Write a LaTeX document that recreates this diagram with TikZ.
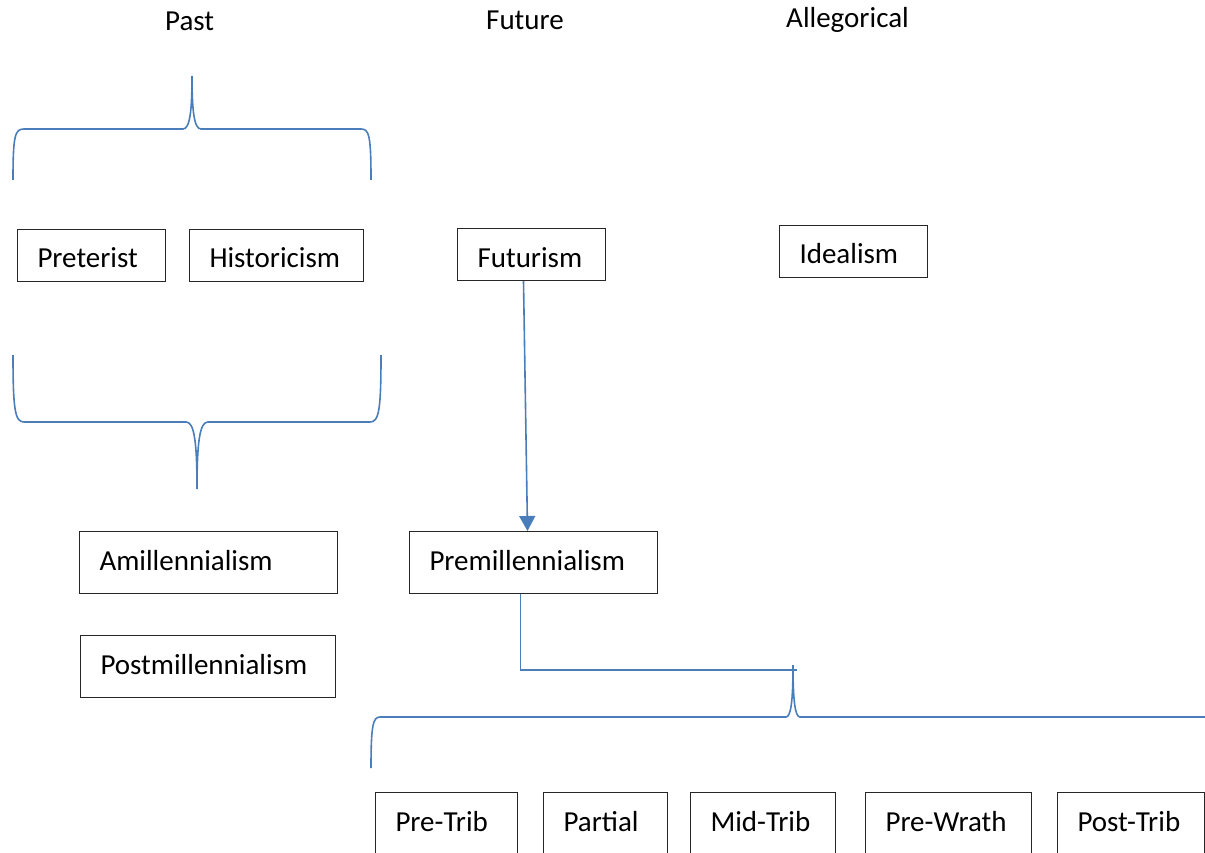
\documentclass[tikz,border=0pt]{standalone}
\usepackage{fontspec}
\setmainfont{Carlito}
\usetikzlibrary{arrows.meta}
\definecolor{braceblue}{RGB}{74,126,187}
\tikzset{
  box/.style n args={2}{draw=black!85, line width=1pt, rectangle, anchor=north west,
    inner xsep=20pt, inner ysep=0pt, text width=#1, align=left,
    text height=38.5pt, text depth=#2},
  head/.style={anchor=base west, inner sep=0pt},
  brace/.style={draw=braceblue, line width=1.6pt},
  link/.style={draw=braceblue, line width=1.6pt}
}

\begin{document}
\begin{tikzpicture}[x=1pt,y=-1pt,font=\fontsize{29}{34}\selectfont]
\clip (0,0) rectangle (1205,853);
% headings
\node[head] (past) at (165,31) {Past};
\node[head] (future) at (486,30) {Future};
\node[head] (alleg) at (786,28) {Allegorical};
% views
\node[box={108pt}{13.5pt}] (pret) at (17,229) {Preterist};
\node[box={134pt}{13.5pt}] (hist) at (189,229) {Historicism};
\node[box={108pt}{13.5pt}] (futur) at (457,228) {Futurism};
\node[box={108pt}{13.5pt}] (ideal) at (779,225) {Idealism};
% millennial views
\node[box={218pt}{23.5pt}] (amill) at (79,531) {Amillennialism};
\node[box={208pt}{23.5pt}] (premill) at (409,531) {Premillennialism};
\node[box={215pt}{23.5pt}] (postmill) at (80,635) {Postmillennialism};
% rapture views
\node[box={102pt}{70pt}] (pretrib) at (375,792) {Pre-Trib};
\node[box={84pt}{70pt}] (partial) at (543,792) {Partial};
\node[box={105pt}{70pt}] (midtrib) at (690,792) {Mid-Trib};
\node[box={126pt}{70pt}] (prewrath) at (865,792) {Pre-Wrath};
\node[box={107pt}{70pt}] (posttrib) at (1057,792) {Post-Trib};
% braces
\draw[brace] (13,180) .. controls (13,135) and (15,129) .. (24,129) -- (183,129)
  .. controls (190,129) and (192,110) .. (192,76)
  .. controls (192,110) and (194,129) .. (201,129) -- (361,129)
  .. controls (369,129) and (371,135) .. (371,180);
\draw[brace] (13,355) .. controls (13,410) and (15,422) .. (24,422) -- (186,422)
  .. controls (194,422) and (197,440) .. (197,489)
  .. controls (197,440) and (200,422) .. (208,422) -- (370,422)
  .. controls (379,422) and (381,410) .. (381,355);
\coordinate (tribtip) at (793,665);
\draw[brace] (371,768) .. controls (371,725) and (373,717) .. (380,717) -- (786,717)
  .. controls (791,717) and (793,700) .. (tribtip)
  .. controls (793,700) and (795,717) .. (800,717) -- (1210,717);
% connectors
\draw[link,-{Triangle[length=15pt,width=16pt]}] ([xshift=-8pt]futur.south) -- ([xshift=-6pt]premill.north);
\coordinate (join) at (797,670);
\draw[link] ([xshift=-13pt]premill.south) |- (join);
\end{tikzpicture}
\end{document}
